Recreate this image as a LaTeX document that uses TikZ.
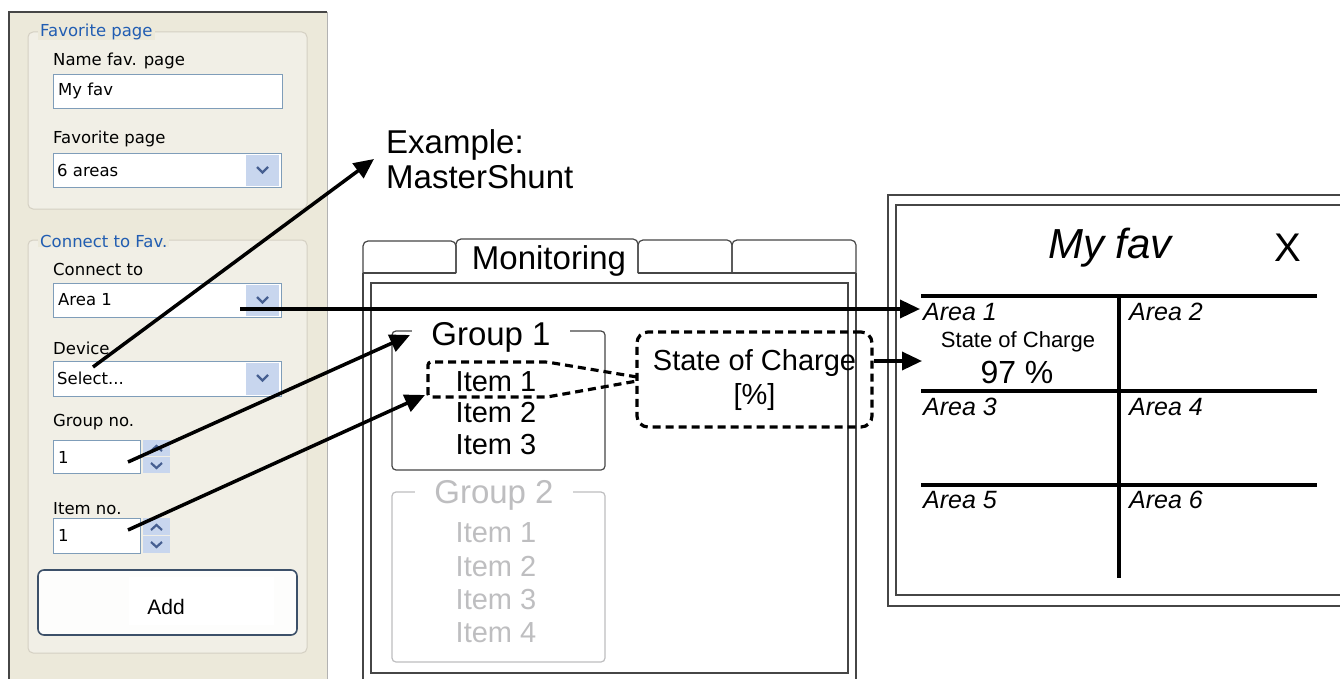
\documentclass[tikz,border=0pt]{standalone}
\usepackage{fontspec}
\setmainfont{Liberation Sans}
\newfontfamily\uifont{DejaVu Sans}
\usetikzlibrary{arrows.meta}
\definecolor{panelbg}{RGB}{236,233,218}
\definecolor{grpbg}{RGB}{241,239,230}
\definecolor{grpline}{RGB}{212,208,195}
\definecolor{xpblue}{RGB}{33,93,178}
\definecolor{tbline}{RGB}{127,157,185}
\definecolor{btnblue}{RGB}{200,214,238}
\definecolor{chev}{RGB}{70,95,145}
\definecolor{uiedge}{RGB}{70,70,70}
\definecolor{ghost}{RGB}{190,190,192}
\definecolor{addedge}{RGB}{60,80,105}
\begin{document}
\begin{tikzpicture}[x=1pt,y=-1pt,
  uilbl/.style={font=\uifont\fontsize{16.5}{19}\selectfont, inner sep=0pt, anchor=west},
  grptitle/.style={font=\uifont\fontsize{16.5}{19}\selectfont, text=xpblue, fill=panelbg, inner xsep=2pt, inner ysep=0pt, anchor=west},
  tbox/.style={draw=tbline, fill=white, line width=1pt, inner sep=0pt, anchor=north west},
  ddbtn/.style={fill=btnblue, inner sep=0pt, anchor=north west},
  chevline/.style={draw=chev, line width=2.2pt},
  arr/.style={line width=3.5pt, -{Triangle[length=20pt,width=18pt]}},
  dashline/.style={line width=3.2pt, dash pattern=on 8pt off 5pt},
  tabline/.style={draw=uiedge, line width=1.2pt},
  bigtxt/.style={font=\fontsize{33}{38}\selectfont, inner sep=0pt},
  itemtxt/.style={font=\fontsize{29}{33}\selectfont, inner sep=0pt},
  areatxt/.style={font=\itshape\fontsize{25}{29}\selectfont, inner sep=0pt, anchor=west},
  gridline/.style={line width=4pt},
  favedge/.style={draw=uiedge, line width=1.4pt}
]
\useasboundingbox (0,0) rectangle (1340,679);
\clip (0,0) rectangle (1340,679);
\fill[white] (0,0) rectangle (1340,679);

% ---------------- left settings panel ----------------
\fill[panelbg] (9,12) rectangle (327,690);
\draw[uiedge, line width=1.5pt] (9,690) -- (9,12) -- (327,12);
\draw[gray!60, line width=1pt] (327,12) -- (327,690);

% group box 1
\draw[grpline, fill=grpbg, line width=1pt, rounded corners=5pt] (28,32) rectangle (307,209);
\node[grptitle] (gt1) at (38,32) {Favorite page};
\node[uilbl] (lblname) at (53,61) {Name fav. page};
\node[tbox, minimum width=229pt, minimum height=34pt] (tbname) at (53,74) {};
\node[uilbl] (tbnametxt) at (58,91) {My fav};
\node[uilbl] (lblfav) at (53,139) {Favorite page};
\node[tbox, minimum width=228pt, minimum height=34pt] (ddfav) at (53,153) {};
\node[uilbl] (ddfavtxt) at (57,170) {6 areas};
\node[ddbtn, minimum width=33pt, minimum height=31pt] (ddfavbtn) at (246,154.5) {};
\draw[chevline] (257,167) -- (262.5,172.5) -- (268,167);

% group box 2
\draw[grpline, fill=grpbg, line width=1pt, rounded corners=5pt] (28,240) rectangle (307,653);
\node[grptitle] (gt2) at (38,241) {Connect to Fav.};
\node[uilbl] (lblcon) at (53,269) {Connect to};
\node[tbox, minimum width=228pt, minimum height=34pt] (ddarea) at (53,283) {};
\node[uilbl] (ddareatxt) at (58,300) {Area 1};
\node[ddbtn, minimum width=33pt, minimum height=31pt] (ddareabtn) at (246,284.5) {};
\draw[chevline] (257,297) -- (262.5,302.5) -- (268,297);
\node[uilbl] (lbldev) at (53,348) {Device};
\node[tbox, minimum width=228pt, minimum height=35pt] (dddev) at (53,361) {};
\node[uilbl] (dddevtxt) at (57,378) {Select...};
\node[ddbtn, minimum width=33pt, minimum height=32pt] (dddevbtn) at (246,362.5) {};
\draw[chevline] (257,375) -- (262.5,380.5) -- (268,375);

\node[uilbl] (lblgrp) at (53,422) {Group no.};
\node[tbox, minimum width=87pt, minimum height=33pt] (spgrp) at (53,440) {};
\node[uilbl] (spgrptxt) at (58,457) {1};
\node[ddbtn, minimum width=27pt, minimum height=16pt] (spgrpup) at (143,440) {};
\node[ddbtn, minimum width=27pt, minimum height=16pt] (spgrpdn) at (143,457) {};
\draw[chevline] (151,451) -- (156.5,446) -- (162,451);
\draw[chevline] (151,463) -- (156.5,468) -- (162,463);

\node[uilbl] (lblitem) at (53,509) {Item no.};
\node[tbox, minimum width=87pt, minimum height=35pt] (spitem) at (53,518) {};
\node[uilbl] (spitemtxt) at (58,535) {1};
\node[ddbtn, minimum width=27pt, minimum height=17pt] (spitemup) at (143,518) {};
\node[ddbtn, minimum width=27pt, minimum height=17pt] (spitemdn) at (143,536) {};
\draw[chevline] (151,530) -- (156.5,525) -- (162,530);
\draw[chevline] (151,542) -- (156.5,547) -- (162,542);

% Add button
\draw[addedge, fill=white!92!panelbg, line width=1.6pt, rounded corners=6pt] (38,570) rectangle (297,635);
\node[fill=white, minimum width=145pt, minimum height=48pt, inner sep=0pt, anchor=north west] (addinner) at (129,577) {};
\node[font=\fontsize{21}{24}\selectfont, inner sep=0pt] (addtxt) at (166,607) {Add};

% ---------------- example label ----------------
\node[bigtxt, align=left, anchor=west, inner xsep=12pt, font=\fontsize{33}{35}\selectfont] (ex) at (374,159) {Example:\\MasterShunt};

% ---------------- monitoring panel ----------------
\draw[tabline, rounded corners=5pt] (363,273) -- (363,241) -- (456,241) -- (456,273);
\draw[tabline] (363,273) -- (456,273);
\draw[tabline, rounded corners=5pt] (456,273) -- (456,239) -- (638,239) -- (638,273);
\draw[tabline, rounded corners=5pt] (638,273) -- (638,240) -- (732,240) -- (732,273);
\draw[tabline, rounded corners=5pt] (732,273) -- (732,240) -- (856,240) -- (856,273);
\draw[tabline] (638,273) -- (856,273);
\draw[tabline] (363,273) -- (363,690);
\draw[tabline] (856,273) -- (856,690);
\draw[tabline] (371,283) rectangle (848,673);
\node[bigtxt] (montab) at (549,261) {Monitoring};

% group 1
\draw[tabline, rounded corners=4pt] (392,331) rectangle (605,470);
\node[bigtxt, fill=white, inner xsep=19pt] (grp1) at (491,337) {Group 1};
\node[itemtxt] (g1i1) at (496,382) {Item 1};
\node[itemtxt] (g1i2) at (496,413) {Item 2};
\node[itemtxt] (g1i3) at (496,445) {Item 3};

% group 2 (greyed)
\draw[ghost, line width=1.2pt, rounded corners=4pt] (392,492) rectangle (605,662);
\node[bigtxt, text=ghost, fill=white, inner xsep=19pt] (grp2) at (494,495) {Group 2};
\node[itemtxt, text=ghost] (g2i1) at (496,533) {Item 1};
\node[itemtxt, text=ghost] (g2i2) at (496,567) {Item 2};
\node[itemtxt, text=ghost] (g2i3) at (496,600) {Item 3};
\node[itemtxt, text=ghost] (g2i4) at (496,633) {Item 4};

% ---------------- My fav panel ----------------
\draw[favedge] (1345,195) -- (888,195) -- (888,606) -- (1345,606);
\draw[favedge] (1345,205) -- (896,205) -- (896,595) -- (1345,595);
\node[font=\itshape\fontsize{42}{46}\selectfont, inner sep=0pt] (favtitle) at (1110,248) {My fav};
\node[font=\fontsize{40}{44}\selectfont, inner sep=0pt] (favx) at (1288,248) {X};
\draw[gridline] (921,296) -- (1317,296);
\draw[gridline] (921,391) -- (1317,391);
\draw[gridline] (921,485) -- (1317,485);
\draw[gridline] (1119,296) -- (1119,578);
\node[areatxt] (a1) at (923,312) {Area 1};
\node[areatxt] (a2) at (1129,312) {Area 2};
\node[areatxt] (a3) at (923,407) {Area 3};
\node[areatxt] (a4) at (1129,407) {Area 4};
\node[areatxt] (a5) at (923,500) {Area 5};
\node[areatxt] (a6) at (1129,500) {Area 6};
\node[font=\fontsize{22}{25}\selectfont, inner sep=0pt] (soclbl) at (1018,342) {State of Charge};
\node[font=\fontsize{32}{36}\selectfont, inner sep=0pt] (pct) at (1017,372) {97 \%};

% ---------------- State of Charge callout ----------------
\node[draw, dashline, rounded corners=11pt, minimum width=235pt, minimum height=95pt,
      align=center, font=\fontsize{29}{34}\selectfont, inner sep=0pt] (soc) at (754.5,379.5) {State of Charge\\{[\%]}};
\draw[dashline, rounded corners=3pt] (637,377) -- (547,362) -- (428,362) -- (428,397) -- (547,397) -- (637,381);

% ---------------- connectors ----------------
\coordinate (devsrc) at (93,367);
\coordinate (areasrc) at (240,309);
\coordinate (areatip) at (920,309);
\coordinate (grpsrc) at (128,462);
\coordinate (grptip) at (410,335);
\coordinate (itemsrc) at (128,530);
\coordinate (itemtip) at (425,395);
\coordinate (soctip) at (922,361);
\draw[arr] (devsrc) -- (ex.west);
\draw[arr] (areasrc) -- (areatip);
\draw[arr] (grpsrc) -- (grptip);
\draw[arr] (itemsrc) -- (itemtip);
\draw[arr] (soc.east |- soctip) -- (soctip);
\end{tikzpicture}
\end{document}
